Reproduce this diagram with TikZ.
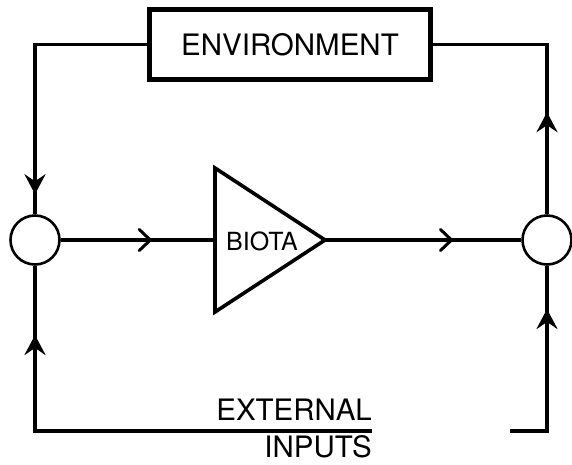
\documentclass[tikz,border=0pt]{standalone}
\usepackage{fontspec}
\setmainfont{TeX Gyre Heros}
\usetikzlibrary{arrows.meta,decorations.markings}
\tikzset{
  wire/.style={line width=3.3pt, line join=miter},
  joint/.style={circle, draw, line width=2.6pt, minimum size=49pt, inner sep=0pt, fill=white},
  chev/.style={postaction={decorate}, decoration={markings, mark=at position #1 with {\arrow{Straight Barb[length=11pt,width=21pt,line width=3pt,round]}}}},
  fillarr/.style={postaction={decorate}, decoration={markings, mark=at position #1 with {\arrow{Stealth[length=20pt,width=21pt,inset=7pt]}}}},
  lbl/.style={font=\fontsize{29.5pt}{31pt}\selectfont, inner sep=0pt}
}
\begin{document}
\begin{tikzpicture}[x=1pt,y=1pt]
\useasboundingbox (0,0) rectangle (572,-464);
\node[draw, line width=4.5pt, minimum width=281pt, minimum height=70pt, inner sep=0pt,
      font=\fontsize{29.5pt}{31pt}\selectfont] (env) at (290,-44.5) {ENVIRONMENT};
\node[joint] (L) at (35,-240) {};
\node[joint] (R) at (547,-240) {};
\coordinate (tA) at (215,-168);
\coordinate (tB) at (215,-312);
\coordinate (tin) at (215,-240);
\coordinate (tout) at (325,-240);
\draw[line width=3.6pt, line join=miter] (tA) -- (tout) -- (tB) -- cycle;
\node[font=\fontsize{25pt}{27pt}\selectfont, inner sep=0pt] (biota) at (262,-241) {BIOTA};
\coordinate (ext) at (372,-431);
\coordinate (rb) at (510,-431);
% connectors
\draw[wire, fillarr=262pt] (env.west) -| (L.north);
\draw[wire, fillarr=102pt] (R.north) |- (env.east);
\draw[wire, chev=91pt] (L.east) -- (tin);
\draw[wire, chev=128pt] (tout) -- (R.west);
\draw[wire, fillarr=433pt] (ext) -| (L.south);
\draw[wire, fillarr=159pt] (rb) -| (R.south);
\node[lbl, anchor=base east] (extl) at (372,-420) {EXTERNAL};
\node[lbl, anchor=base east] (inl) at (372,-457) {INPUTS};
\end{tikzpicture}
\end{document}
